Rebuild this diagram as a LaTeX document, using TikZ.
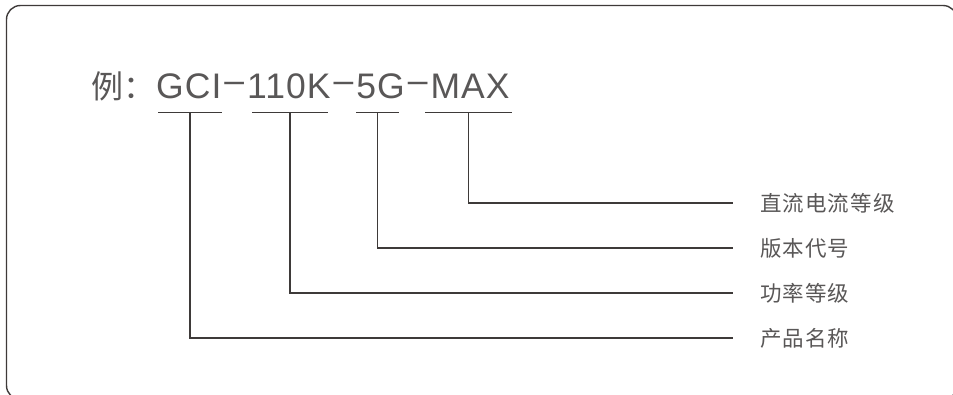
\documentclass[tikz,border=0pt]{standalone}
\usepackage{fontspec}
\usetikzlibrary{calc}
\setmainfont{Liberation Sans}
\newfontfamily\cjk{Noto Sans CJK SC}
\newfontfamily\cjklab[LetterSpace=5]{Noto Sans CJK SC}
\newfontfamily\titlefont[LetterSpace=3]{Liberation Sans}
\definecolor{framec}{HTML}{3E3A39}
\definecolor{txtc}{HTML}{595757}
\definecolor{linec}{HTML}{3E3A39}
\tikzset{
  frameline/.style={draw=framec, line width=1.4pt, rounded corners=14pt},
  uline/.style={draw=linec, line width=1.5pt},
  leader/.style={draw=linec, line width=1.1pt},
  lab/.style={anchor=west, inner sep=0pt, text=txtc, font=\cjklab\fontsize{21.5}{21.5}\selectfont},
  ttl/.style={anchor=base west, inner sep=0pt, text=txtc}
}
\newcommand{\dsh}{\hspace{3pt}\raisebox{0.18em}{–}\hspace{3pt}}
\begin{document}
\begin{tikzpicture}[x=1pt,y=-1pt]
\useasboundingbox (0,0) rectangle (953,395);
\draw[frameline] (6.5,5.5) rectangle (957,399.5);

% title
\node[ttl, font=\cjk\fontsize{32}{32}\selectfont] (ex) at (91,99) {例：};
\node[ttl, font=\titlefont\fontsize{35.5}{35.5}\selectfont] (code) at (156,99) {GCI\dsh110K\dsh5G\dsh MAX};

% underline coordinates
\coordinate (a1) at (158,112.5); \coordinate (a2) at (222,112.5);
\coordinate (b1) at (252,112.5); \coordinate (b2) at (328,112.5);
\coordinate (c1) at (356,112.5); \coordinate (c2) at (399,112.5);
\coordinate (d1) at (425,112.5); \coordinate (d2) at (512,112.5);
\draw[uline] (a1) -- (a2);
\draw[uline] (b1) -- (b2);
\draw[uline] (c1) -- (c2);
\draw[uline] (d1) -- (d2);
\coordinate (am) at ($(a1)!0.5!(a2)$);
\coordinate (bm) at ($(b1)!0.5!(b2)$);
\coordinate (cm) at ($(c1)!0.5!(c2)$);
\coordinate (dm) at ($(d1)!0.5!(d2)$);

% labels
\node[lab] (l1) at (760,203) {直流电流等级};
\node[lab] (l2) at (760,248) {版本代号};
\node[lab] (l3) at (760,293) {功率等级};
\node[lab] (l4) at (760,338) {产品名称};

\coordinate (e1) at ([xshift=-27pt]l1.west);
\coordinate (e2) at ([xshift=-27pt]l2.west);
\coordinate (e3) at ([xshift=-27pt]l3.west);
\coordinate (e4) at ([xshift=-27pt]l4.west);

\draw[leader] (dm) |- (e1);
\draw[leader] (cm) |- (e2);
\draw[leader] (bm) |- (e3);
\draw[leader] (am) |- (e4);
\end{tikzpicture}
\end{document}
